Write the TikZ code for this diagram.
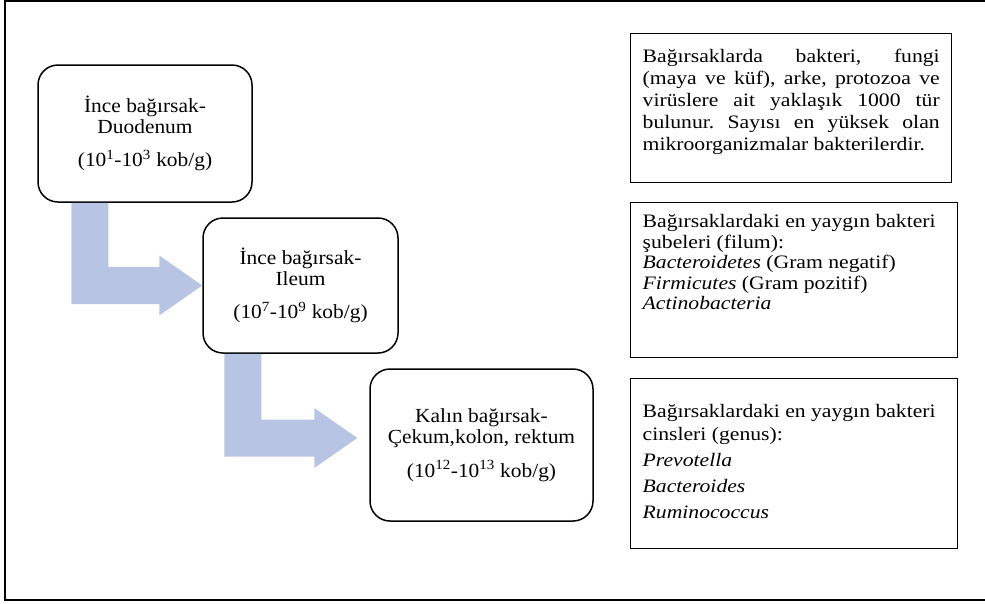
\documentclass[tikz,border=0pt]{standalone}
\usepackage{fontspec}
\setmainfont{Liberation Serif}
\newfontfamily\organfont{Liberation Serif}[FakeStretch=1.07]
\newfontfamily\notefont{Liberation Serif}[FakeStretch=1.14]
\usepackage{tikz}
\usetikzlibrary{calc}
\definecolor{flowblue}{RGB}{184,196,228}
\tikzset{
  organ/.style={draw, line width=1.5pt, rounded corners=20pt, align=center,
    font=\organfont\fontsize{20}{21}\selectfont},
  note/.style={draw, line width=1.4pt, anchor=north west, inner xsep=12pt, inner ysep=0pt,
    font=\notefont\fontsize{19}{22}\selectfont\frenchspacing},
  flow/.style={fill=flowblue}
}
% width, height, top gap, text
\newcommand{\notetext}[4]{\parbox[c][#2][t]{#1}{\vspace*{#3}#4}}
% top left of shaft, tip of head
\newcommand{\bentarrow}[2]{%
  \fill[flow] let \p1=(#1), \p2=(#2) in
    (\x1,\y1) -- (\x1+37pt,\y1) -- (\x1+37pt,\y2+18.5pt) -- (\x2-43pt,\y2+18.5pt)
    -- (\x2-43pt,\y2+30pt) -- (\x2,\y2) -- (\x2-43pt,\y2-30pt)
    -- (\x2-43pt,\y2-18.5pt) -- (\x1,\y2-18.5pt) -- cycle;}

\begin{document}
\begin{tikzpicture}[x=1pt,y=-1pt]
\useasboundingbox (0,0) rectangle (985,603);
\draw[line width=2pt] (985,1) -- (5,1) -- (5,600) -- (985,600);

\node[organ, minimum width=214pt, minimum height=137pt] (duodenum) at (145,133.5)
  {İnce bağırsak-\\Duodenum\\[12pt](10\textsuperscript{1}-10\textsuperscript{3} kob/g)};
\node[organ, minimum width=195pt, minimum height=135pt] (ileum) at (300.5,285.5)
  {İnce bağırsak-\\Ileum\\[12pt](10\textsuperscript{7}-10\textsuperscript{9} kob/g)};
\node[organ, minimum width=223pt, minimum height=152pt] (kalin) at (481.5,445)
  {Kalın bağırsak-\\Çekum,kolon, rektum\\[12pt](10\textsuperscript{12}-10\textsuperscript{13} kob/g)};

\coordinate (a1top) at ($(duodenum.south west)+(34,0)$);
\coordinate (a1tip) at (ileum.west);
\coordinate (a2top) at ($(ileum.south west)+(22,0)$);
\coordinate (a2tip) at ($(kalin.west)+(-12,-7)$);
\bentarrow{a1top}{a1tip}
\bentarrow{a2top}{a2tip}

\node[note] (genel) at (630,33) {\notetext{297pt}{149pt}{15pt}{%
  Bağırsaklarda bakteri, fungi\linebreak (maya ve küf), arke, protozoa ve\linebreak
  virüslere ait yaklaşık 1000 tür\linebreak bulunur. Sayısı en yüksek olan\linebreak
  mikroorganizmalar bakterilerdir.}};
\node[note] (filum) at (630,202) {\notetext{303pt}{155pt}{12pt}{\raggedright
  \baselineskip=20.5pt
  Bağırsaklardaki en yaygın bakteri\\ şubeleri (filum):\\
  \textit{Bacteroidetes} (Gram negatif)\\ \textit{Firmicutes} (Gram pozitif)\\
  \textit{Actinobacteria}}};
\node[note] (genus) at (630,378) {\notetext{303pt}{170pt}{26pt}{\raggedright
  \baselineskip=23pt
  Bağırsaklardaki en yaygın bakteri\\ cinsleri (genus):\\[3pt]
  \textit{Prevotella}\\[3pt] \textit{Bacteroides}\\[3pt] \textit{Ruminococcus}}};
\end{tikzpicture}
\end{document}
